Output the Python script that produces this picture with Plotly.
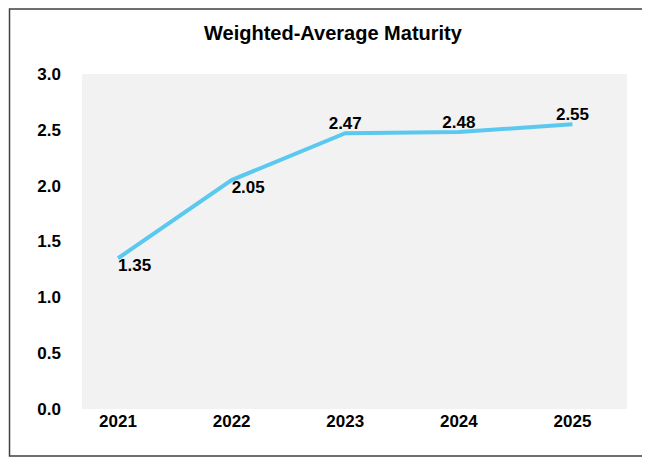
import plotly.graph_objects as go

years = ["2021", "2022", "2023", "2024", "2025"]
values = [1.35, 2.05, 2.47, 2.48, 2.55]
label_pos = ["bottom right", "bottom right", "top center", "top center", "top center"]

fig = go.Figure(go.Scatter(
    x=list(range(len(years))), y=values, mode="lines+text",
    line=dict(color="#5BC8F0", width=4),
    text=[f"<b>{v:.2f}</b>" for v in values], textposition=label_pos,
    textfont=dict(size=17, color="#000"),
))
fig.update_layout(
    width=650, height=460,
    margin=dict(l=74, r=31, t=66, b=59),
    paper_bgcolor="white", plot_bgcolor="#F2F2F2",
    font=dict(family="Liberation Sans, Arial", color="#000"),
    title=dict(text="<b>Weighted-Average Maturity</b>", x=0.5, xanchor="center",
               y=0.945, yanchor="middle", font=dict(size=20)),
    showlegend=False,
    shapes=[dict(type="rect", xref="paper", yref="paper", x0=-0.133, x1=1.037, y0=-0.14, y1=1.194,
                 line=dict(color="#404040", width=1.5))],
)
fig.update_xaxes(tickvals=list(range(len(years))), ticktext=[f"<b>{y}</b>" for y in years],
                 range=[-0.317, 4.48], showgrid=False, zeroline=False, tickfont=dict(size=17),
                 ticklen=0, ticks="")
fig.update_yaxes(range=[0, 3.0], dtick=0.5, tickformat=".1f", showgrid=False, zeroline=False,
                 tickfont=dict(size=17), tickprefix="<b>", ticksuffix="</b>", ticklabelstandoff=20)
fig.write_html("out.html")
